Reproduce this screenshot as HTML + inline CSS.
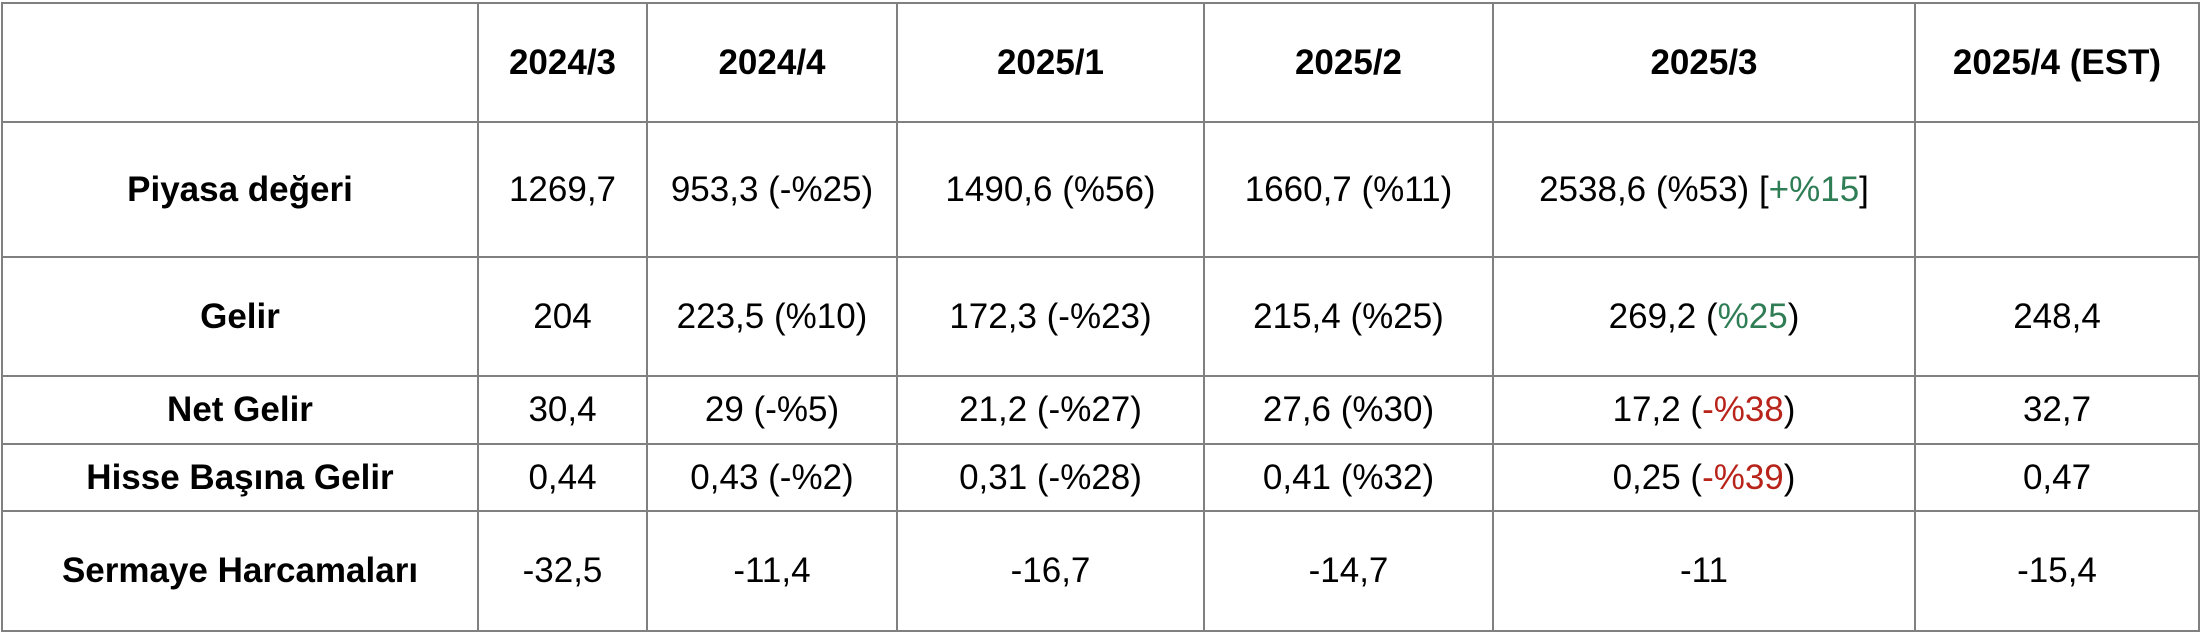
<!DOCTYPE html>
<html><head><meta charset="utf-8"><style>
html,body{margin:0;padding:0;background:#fff;width:2202px;height:634px;overflow:hidden}
table{position:absolute;left:1px;top:2px;border-collapse:collapse;table-layout:fixed;width:2197px;font-family:"Liberation Sans",sans-serif;font-size:35px;color:#000}
td{border:2px solid #808080;text-align:center;vertical-align:middle;padding:0;white-space:nowrap;overflow:visible}
.h td{font-weight:bold}
td.l{font-weight:bold}
.g{color:#2f7d55}.r{color:#b8231a}
</style></head><body>
<table>
<colgroup><col style="width:476px"><col style="width:169px"><col style="width:250px"><col style="width:307px"><col style="width:289px"><col style="width:422px"><col style="width:284px"></colgroup>
<tr class="h" style="height:119px"><td></td><td>2024/3</td><td>2024/4</td><td>2025/1</td><td>2025/2</td><td>2025/3</td><td>2025/4 (EST)</td></tr>
<tr style="height:135px"><td class="l">Piyasa değeri</td><td>1269,7</td><td>953,3 (-%25)</td><td>1490,6 (%56)</td><td>1660,7 (%11)</td><td>2538,6 (%53) [<span class="g">+%15</span>]</td><td></td></tr>
<tr style="height:119px"><td class="l">Gelir</td><td>204</td><td>223,5 (%10)</td><td>172,3 (-%23)</td><td>215,4 (%25)</td><td>269,2 (<span class="g">%25</span>)</td><td>248,4</td></tr>
<tr style="height:68px"><td class="l">Net Gelir</td><td>30,4</td><td>29 (-%5)</td><td>21,2 (-%27)</td><td>27,6 (%30)</td><td>17,2 (<span class="r">-%38</span>)</td><td>32,7</td></tr>
<tr style="height:67px"><td class="l">Hisse Başına Gelir</td><td>0,44</td><td>0,43 (-%2)</td><td>0,31 (-%28)</td><td>0,41 (%32)</td><td>0,25 (<span class="r">-%39</span>)</td><td>0,47</td></tr>
<tr style="height:120px"><td class="l">Sermaye Harcamaları</td><td>-32,5</td><td>-11,4</td><td>-16,7</td><td>-14,7</td><td>-11</td><td>-15,4</td></tr>
</table>
</body></html>
